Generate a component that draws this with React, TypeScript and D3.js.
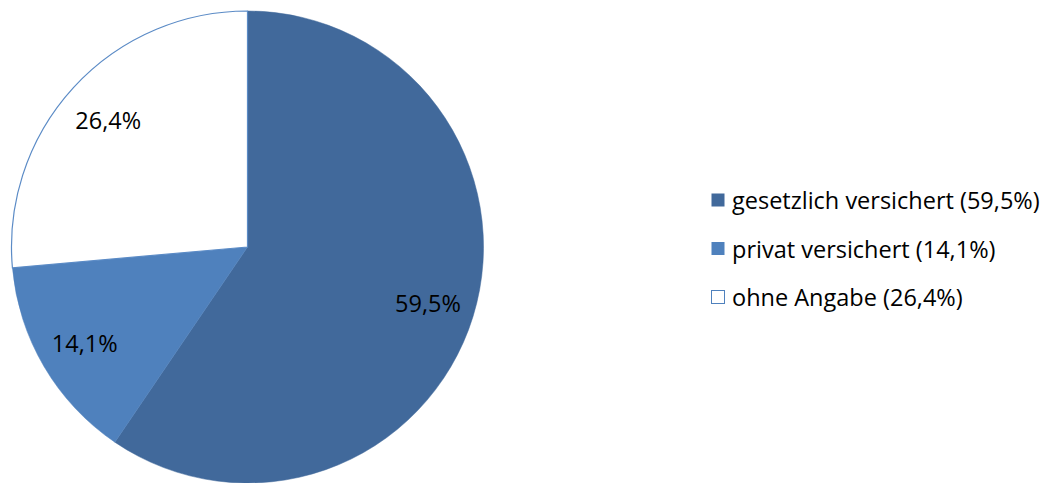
import React from "react";
import * as d3 from "d3";

const categories = ["gesetzlich versichert", "privat versichert", "ohne Angabe"];
const values = [59.5, 14.1, 26.4];
const labels = ["59,5%", "14,1%", "26,4%"];
const legendLabels = ["gesetzlich versichert (59,5%)", "privat versichert (14,1%)", "ohne Angabe (26,4%)"];
const colors = ["#41699B", "#4F81BD", "#FFFFFF"];

const W = 1046;
const H = 483;
const cx = 247.5;
const cy = 247;
const R = 236;
const FONT = "'Open Sans', sans-serif";

export default function App() {
  const pie = d3.pie<number>().sort(null).value((d) => d)(values);
  const arc = d3.arc<d3.PieArcDatum<number>>().innerRadius(0).outerRadius(R);
  const labelArc = d3.arc<d3.PieArcDatum<number>>().innerRadius(R * 0.8).outerRadius(R * 0.8);
  const legendY = d3.scalePoint<string>().domain(categories).range([200, 297]);

  return (
    <svg width={W} height={H} style={{ position: "absolute", left: 0, top: 0 }}>
      <rect width={W} height={H} fill="#fff" />
      <g transform={`translate(${cx},${cy})`}>
        {pie.map((p, i) => (
          <path
            key={i}
            d={arc(p) || ""}
            fill={colors[i]}
            stroke={i === 2 ? "#5B8BC6" : colors[i]}
            strokeWidth={i === 2 ? 1.2 : 0.5}
          />
        ))}
        {pie.map((p, i) => {
          const [x, y] = labelArc.centroid(p);
          return (
            <text
              key={"l" + i}
              x={x}
              y={y}
              textAnchor="middle"
              dominantBaseline="central"
              fontFamily={FONT}
              fontSize={23.5}
              fill="#000"
            >
              {labels[i]}
            </text>
          );
        })}
      </g>
      {categories.map((c, i) => {
        const y = legendY(c) as number;
        return (
          <g key={c}>
            <rect
              x={711.5}
              y={y - 6.5}
              width={13}
              height={13}
              fill={colors[i]}
              stroke={i === 2 ? "#4F81BD" : "none"}
              strokeWidth={1}
            />
            <text x={732} y={y} dominantBaseline="central" fontFamily={FONT} fontSize={23.5} fill="#000">
              {legendLabels[i]}
            </text>
          </g>
        );
      })}
    </svg>
  );
}
